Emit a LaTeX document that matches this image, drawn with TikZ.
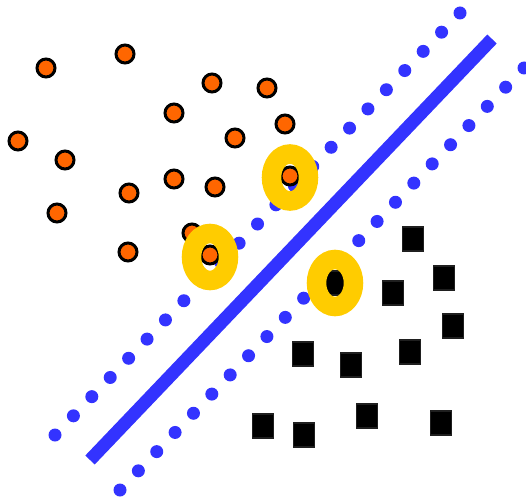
\documentclass[tikz,border=0pt]{standalone}
\usepackage{tikz}

\definecolor{svmblue}{HTML}{3333FF}
\definecolor{ptorange}{HTML}{FF6600}
\definecolor{svyellow}{HTML}{FFCC00}

\begin{document}
\begin{tikzpicture}[
  x=1pt, y=-1pt,
  margindot/.style={fill=svmblue},
  hyperline/.style={draw=svmblue, line width=13pt},
  ptcirc/.style={fill=ptorange, draw=black, line width=3pt},
  ptsq/.style={fill=black, draw=black!88, line width=1.5pt},
  supring/.style={draw=svyellow, line width=19.5pt}
]
\useasboundingbox (0,0) rectangle (526,497);

% ── margins (dotted) ───────────────────────────────────────────
\foreach \i in {0,...,22} {
  \fill[margindot] ({55+\i*405/22},{435-\i*422/22}) circle (6.5);
  \fill[margindot] ({120+\i*404/22},{490-\i*422/22}) circle (6.5);
}

% ── separating hyperplane ──────────────────────────────────────
\draw[hyperline] (90,460) -- (492,39);

% ── class 1: orange circles ────────────────────────────────────
\foreach \px/\py in {46/68, 125/54, 212/83, 267/88, 174/113, 285/124,
                     18/141, 235/138, 65/160, 174/179, 215/187,
                     129/193, 57/213, 192/233, 128/252, 290/176, 210/255}
  \draw[ptcirc] (\px,\py) circle (9);

% ── class 2: black squares ─────────────────────────────────────
\foreach \px/\py in {413/239, 444/278, 393/293, 453/326, 303/354,
                     351/365, 410/352, 367/416, 441/423, 304/435,
                     263/426, 335/283}
  \draw[ptsq] (\px-10.5,\py-12) rectangle ++(21,24);

% ── support vectors ────────────────────────────────────────────
\draw[supring] (290,177.5) ellipse (18.5 and 23.5);
\draw[supring] (210,257)   ellipse (18.5 and 23.5);
\draw[supring] (335,283)   ellipse (18.5 and 23.5);

\end{tikzpicture}
\end{document}
